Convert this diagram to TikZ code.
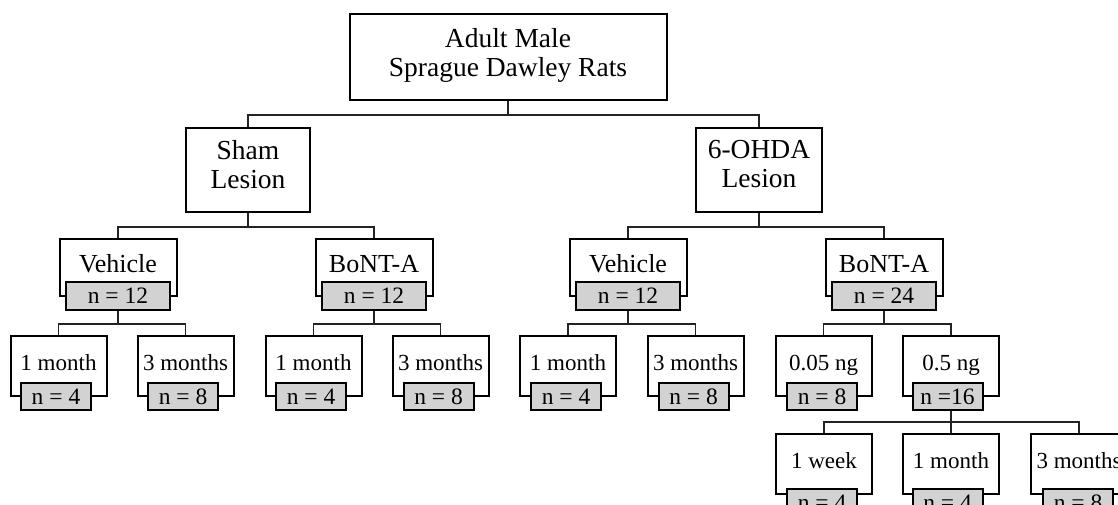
\documentclass[tikz,border=0pt]{standalone}
\usepackage{fontspec}
\setmainfont{Liberation Serif}
\usepackage{tikz}
\usepackage{xcolor}
\definecolor{nfill}{RGB}{210,210,210}
\definecolor{linkgray}{RGB}{35,35,35}
\tikzstyle{link} = [line width=1.8pt, color=linkgray]
\tikzstyle{topbox} = [rectangle, draw, line width=2pt, fill=white, align=center, font=\fontsize{27.5}{29}\selectfont]
\tikzstyle{grpbox} = [rectangle, draw, line width=2pt, fill=white, minimum width=117pt, minimum height=57pt, text height=18pt, text depth=9pt, font=\fontsize{26}{29}\selectfont]
\tikzstyle{subbox} = [rectangle, draw, line width=2pt, fill=white, inner xsep=1pt, minimum width=96pt, minimum height=60pt, text height=17pt, text depth=9pt, font=\fontsize{23}{26}\selectfont]
\tikzstyle{nbox} = [rectangle, draw, line width=2pt, fill=nfill, inner sep=1pt, minimum width=70pt, minimum height=27pt, font=\fontsize{23.5}{26}\selectfont]

\begin{document}
\begin{tikzpicture}[x=1pt, y=-1pt]
\useasboundingbox (0,0) rectangle (1118,504);
\clip (0,0) rectangle (1118,504);

% Rats and lesions
\node[topbox, minimum width=317pt, minimum height=86pt, text depth=9pt] (root) at (508,57) {Adult Male\\Sprague Dawley Rats};
\node[topbox, minimum width=124pt, minimum height=84pt, text depth=12pt] (sham) at (248,170) {Sham\\Lesion};
\node[topbox, minimum width=126pt, minimum height=84pt, text depth=12pt] (ohda) at (759,170) {6-OHDA\\Lesion};

% Treatments
\node[grpbox] (shamveh) at (118,267.5) {Vehicle};
\node[grpbox] (shambont) at (374,267.5) {BoNT-A};
\node[grpbox] (ohdaveh) at (628,267.5) {Vehicle};
\node[grpbox] (ohdabont) at (884,267.5) {BoNT-A};
\node[nbox, minimum width=104pt, minimum height=28pt] (shamvehn) at (118,296) {n = 12};
\node[nbox, minimum width=104pt, minimum height=28pt] (shambontn) at (374,296) {n = 12};
\node[nbox, minimum width=104pt, minimum height=28pt] (ohdavehn) at (628,296) {n = 12};
\node[nbox, minimum width=104pt, minimum height=28pt] (ohdabontn) at (884,296) {n = 24};

% Time points and doses
\node[subbox] (sv1) at (58.5,366) {1 month};
\node[subbox] (sv3) at (185.5,366) {3 months};
\node[subbox] (sb1) at (313.5,366) {1 month};
\node[subbox] (sb3) at (440.5,366) {3 months};
\node[subbox] (ov1) at (568,366) {1 month};
\node[subbox] (ov3) at (695.5,366) {3 months};
\node[subbox] (olow) at (823.5,366) {0.05 ng};
\node[subbox] (ohigh) at (951,366) {0.5 ng};
\node[nbox] (sv1n) at (56,396.5) {n = 4};
\node[nbox] (sv3n) at (183,396.5) {n = 8};
\node[nbox] (sb1n) at (311,396.5) {n = 4};
\node[nbox] (sb3n) at (438.5,396.5) {n = 8};
\node[nbox] (ov1n) at (566,396.5) {n = 4};
\node[nbox] (ov3n) at (693.5,396.5) {n = 8};
\node[nbox] (olown) at (822,396.5) {n = 8};
\node[nbox] (ohighn) at (947.5,396.5) {n =16};

% Time points for 0.5 ng
\node[subbox] (hw1) at (824,464) {1 week};
\node[subbox] (hm1) at (951,464) {1 month};
\node[subbox] (hm3) at (1079,464) {3 months};
\node[nbox] (hw1n) at (822,502.5) {n = 4};
\node[nbox] (hm1n) at (947.5,502.5) {n = 4};
\node[nbox] (hm3n) at (1078,502.5) {n = 8};

% Links
\draw[link] (root.south) -- ++(0,14) -| (sham.north);
\draw[link] (root.south) -- ++(0,14) -| (ohda.north);
\draw[link] (sham.south) -- ++(0,14) -| (shamveh.north);
\draw[link] (sham.south) -- ++(0,14) -| (shambont.north);
\draw[link] (ohda.south) -- ++(0,14) -| (ohdaveh.north);
\draw[link] (ohda.south) -- ++(0,14) -| (ohdabont.north);
\draw[link] (shamvehn.south) -- ++(0,13) -| (sv1.north);
\draw[link] (shamvehn.south) -- ++(0,13) -| (sv3.north);
\draw[link] (shambontn.south) -- ++(0,13) -| (sb1.north);
\draw[link] (shambontn.south) -- ++(0,13) -| (sb3.north);
\draw[link] (ohdavehn.south) -- ++(0,13) -| (ov1.north);
\draw[link] (ohdavehn.south) -- ++(0,13) -| (ov3.north);
\draw[link] (ohdabontn.south) -- ++(0,13) -| (olow.north);
\draw[link] (ohdabontn.south) -- ++(0,13) -| (ohigh.north);
\draw[link] (ohighn.south) ++(3.5,0) coordinate (hsplit) -- ++(0,11) -| (hw1.north);
\draw[link] (hsplit) -- ++(0,11) -| (hm1.north);
\draw[link] (hsplit) -- ++(0,11) -| (hm3.north);
\end{tikzpicture}
\end{document}
